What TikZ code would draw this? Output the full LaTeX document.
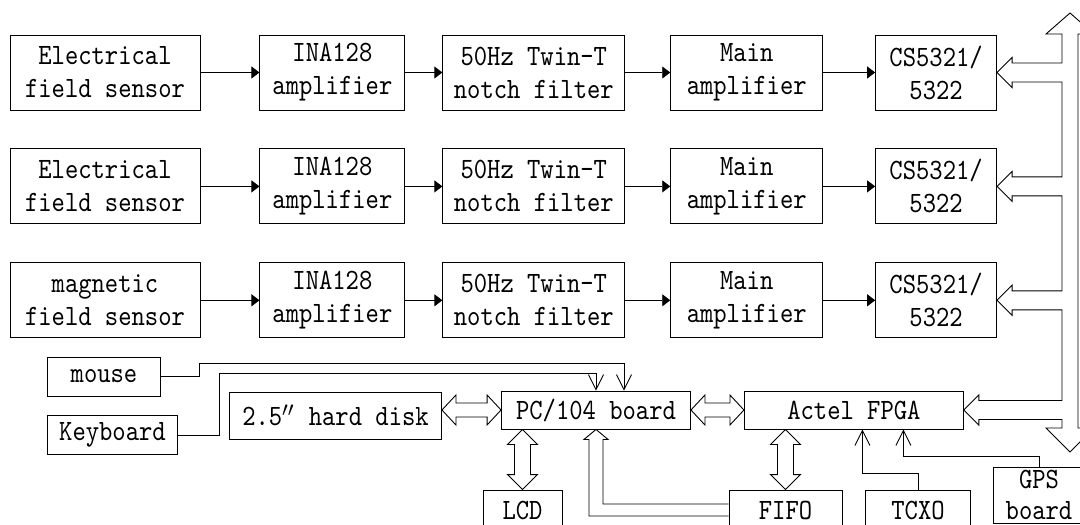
\documentclass[tikz,border=0pt]{standalone}
\usepackage{fontspec}
\newfontfamily\blkfont{lmmono10-regular}[Extension=.otf, FakeStretch=0.86]
\usetikzlibrary{arrows.meta, positioning, calc}

\begin{document}
\begin{tikzpicture}[
  x=1pt, y=-1pt,
  node distance=38pt and 59pt,
  blk/.style={rectangle, draw, line width=0.9pt, inner sep=2pt, align=center,
              font=\blkfont\fontsize{29.5}{33}\selectfont, minimum height=75pt},
  small/.style={blk, minimum height=39pt},
  sig/.style={-{Triangle[length=8pt,width=12pt]}, line width=0.9pt},
  ctl/.style={-{Straight Barb[length=15pt,width=15pt]}, line width=0.9pt},
  hollow/.style={line width=0.9pt, line join=miter}
]
\clip (0,0) rectangle (1080,525);

% three sensor channels
\node[blk, minimum width=190pt] (sen1) at (105,72.5) {Electrical\\field sensor};
\node[blk, minimum width=145pt, right=59pt of sen1] (ina1) {INA128\\amplifier};
\node[blk, minimum width=182pt, right=37pt of ina1] (notch1) {50Hz Twin-T\\notch filter};
\node[blk, minimum width=152pt, right=45pt of notch1] (amp1) {Main\\amplifier};
\node[blk, minimum width=121pt, right=52pt of amp1] (adc1) {CS5321/\\5322};

\node[blk, minimum width=190pt, below=of sen1] (sen2) {Electrical\\field sensor};
\node[blk, minimum width=145pt, below=of ina1] (ina2) {INA128\\amplifier};
\node[blk, minimum width=182pt, below=of notch1] (notch2) {50Hz Twin-T\\notch filter};
\node[blk, minimum width=152pt, below=of amp1] (amp2) {Main\\amplifier};
\node[blk, minimum width=121pt, below=of adc1] (adc2) {CS5321/\\5322};

\node[blk, minimum width=190pt, below=of sen2] (sen3) {magnetic\\field sensor};
\node[blk, minimum width=145pt, below=of ina2] (ina3) {INA128\\amplifier};
\node[blk, minimum width=182pt, below=of notch2] (notch3) {50Hz Twin-T\\notch filter};
\node[blk, minimum width=152pt, below=of amp2] (amp3) {Main\\amplifier};
\node[blk, minimum width=121pt, below=of adc2] (adc3) {CS5321/\\5322};

% control part
\node[small, minimum width=113pt] (mouse) at (104,376.5) {mouse};
\node[small, minimum width=130pt] (keyb) at (112.5,435) {Keyboard};
\node[blk, minimum width=212pt, minimum height=47pt] (disk) at (335.5,415.5)
  {2.5\makebox[0.45em][l]{$''$} hard disk};
\node[small, minimum width=189pt, minimum height=38pt] (pc) at (596,410) {PC/104 board};
\node[small, minimum width=219pt, minimum height=38pt, right=53pt of pc] (fpga) {Actel FPGA};
\node[small, minimum width=79pt, minimum height=40pt] (lcd) at (522.5,510) {LCD};
\node[small, minimum width=113pt, minimum height=40pt] (fifo) at (785.5,510) {FIFO};
\node[small, minimum width=105pt, minimum height=40pt] (tcxo) at (918,510) {TCXO};
\node[small, minimum width=92pt, minimum height=56pt, font=\blkfont\fontsize{29.5}{31}\selectfont]
  (gps) at (1039,495) {GPS\\board};

\foreach \r in {1,2,3}
  \foreach \a/\b in {sen/ina, ina/notch, notch/amp, amp/adc}
    \draw[sig] (\a\r) -- (\b\r);

% data bus
\coordinate (busT) at (1070,13);
\coordinate (busB) at (1070,452);
\coordinate (busL) at (1062,34);
\draw[hollow] (busT) -- ++(-24,21) -- (busL)
  \foreach \t in {adc1,adc2,adc3,fpga} {
    |- ($(\t.east)+(15,-9.5)$) -- ++(0,-5.5) -- (\t.east) -- ++(15,15) -- ++(0,-5.5)
    -- ($(\t.east -| busL)+(0,9.5)$) }
  |- ($(busB)+(-24,-24)$) -- (busB) -- ++(24,-24) -- ++(-16,0)
  -- ($(busT)+(8,21)$) -- ++(16,0) -- cycle;

% two-way links
\foreach \a/\b in {pc.south/lcd.north, fpga.south/fifo.north}
  \draw[hollow] let \p1=(\b), \p2=(\a -| \b) in
    (\p2) -- (\x2+15pt,\y2-15pt) -- (\x2+8pt,\y2-15pt) -- (\x2+8pt,\y1+15pt)
    -- (\x2+15pt,\y1+15pt) -- (\p1) -- (\x2-15pt,\y1+15pt) -- (\x2-8pt,\y1+15pt)
    -- (\x2-8pt,\y2-15pt) -- (\x2-15pt,\y2-15pt) -- cycle;
\foreach \a/\b in {disk.east/pc.west, pc.east/fpga.west}
  \draw[hollow] let \p1=(\a |- \b), \p2=(\b) in
    (\p1) -- (\x1+14pt,\y1+15pt) -- (\x1+14pt,\y1+7pt) -- (\x2-14pt,\y1+7pt)
    -- (\x2-14pt,\y1+15pt) -- (\p2) -- (\x2-14pt,\y1-15pt) -- (\x2-14pt,\y1-7pt)
    -- (\x1+14pt,\y1-7pt) -- (\x1+14pt,\y1-15pt) -- cycle;
\draw[hollow] let \p1=(fifo.west), \p2=(pc.south) in
  (\x1,\y1+6pt) -- (\x2+7pt,\y1+6pt) -- (\x2+7pt,\y2-10pt) -- (\x2+12pt,\y2-10pt)
  -- (\p2) -- (\x2-12pt,\y2-10pt) -- (\x2-7pt,\y2-10pt) -- (\x2-7pt,\y1-6pt) -- (\x1,\y1-6pt);

% single lines
\draw[ctl] (mouse.east) -| ++(38,-13) -| ($(pc.north)+(28,0)$);
\draw[ctl] (keyb.east) -| ++(41,-62) -| (pc.north);
\draw[ctl] (tcxo.north) -- ++(0,-16) -| ($(fpga.south)+(8.5,0)$);
\draw[ctl] (gps.north) -- ++(0,-10) -| ($(fpga.south)+(49.5,0)$);
\end{tikzpicture}
\end{document}
